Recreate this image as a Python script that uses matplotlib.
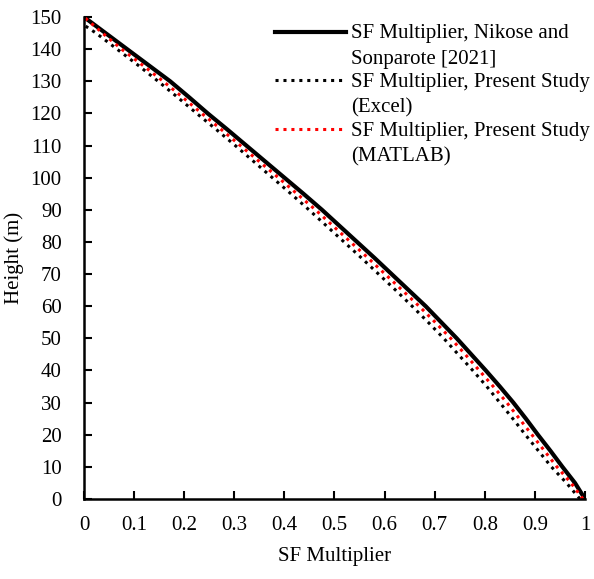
import numpy as np
import matplotlib
matplotlib.use("Agg")
import matplotlib.pyplot as plt

plt.rcParams['font.family'] = ['Liberation Serif', 'DejaVu Serif']
plt.rcParams['font.size'] = 15

# height along the structure (m)
height = [0, 5, 10, 15, 20, 25, 30, 35, 40, 45, 50, 55, 60, 65, 70, 75,
          80, 85, 90, 95, 100, 105, 110, 115, 120, 125, 130, 135, 140, 145, 150]
height_excel = [0, 5, 10, 15, 20, 25, 30, 35, 40, 45, 50, 55, 60, 65, 70, 75,
                80, 85, 90, 95, 100, 105, 110, 115, 120, 125, 130, 135, 140, 145, 147.5]

# SF multiplier values
sf_nikose = [1.0, 0.980, 0.955, 0.931, 0.906, 0.882, 0.857, 0.830, 0.802, 0.773,
             0.744, 0.713, 0.682, 0.648, 0.614, 0.580, 0.545, 0.510, 0.475, 0.438,
             0.400, 0.362, 0.324, 0.286, 0.247, 0.210, 0.172, 0.129, 0.086, 0.043, 0.0]
sf_excel = [0.990, 0.963, 0.933, 0.907, 0.881, 0.856, 0.830, 0.804, 0.776, 0.747,
            0.718, 0.687, 0.655, 0.622, 0.588, 0.554, 0.519, 0.484, 0.449, 0.413,
            0.376, 0.339, 0.302, 0.264, 0.225, 0.187, 0.148, 0.108, 0.066, 0.024, 0.0]
sf_matlab = [0.996, 0.972, 0.944, 0.919, 0.894, 0.869, 0.844, 0.817, 0.789, 0.761,
             0.732, 0.701, 0.669, 0.635, 0.601, 0.567, 0.532, 0.497, 0.462, 0.425,
             0.388, 0.350, 0.312, 0.274, 0.235, 0.197, 0.158, 0.117, 0.075, 0.037, 0.0]

fig = plt.figure(figsize=(5.94, 5.79), dpi=100)
ax = fig.add_axes([0.1414, 0.1382, 0.8434, 0.8324])

ax.plot(sf_nikose, height, color='black', lw=3,
        label='SF Multiplier, Nikose and\nSonparote [2021]')
ax.plot(sf_excel, height_excel, color='black', lw=2.2, linestyle=(0, (1, 1.6)),
        label='SF Multiplier, Present Study\n(Excel)')
ax.plot(sf_matlab, height, color='red', lw=2.2, linestyle=(0, (1, 1.6)),
        label='SF Multiplier, Present Study\n(MATLAB)')

ax.set_xlim(0, 1)
ax.set_ylim(0, 150)
ax.set_xticks(np.arange(0, 1.01, 0.1))
ax.set_xticklabels(['0', '0.1', '0.2', '0.3', '0.4', '0.5', '0.6', '0.7', '0.8', '0.9', '1'])
ax.set_yticks(np.arange(0, 151, 10))

for s in ['top', 'right']:
    ax.spines[s].set_visible(False)
for s in ['left', 'bottom']:
    ax.spines[s].set_linewidth(1.8)
ax.tick_params(direction='in', length=6, width=1.5, labelsize=15)
ax.tick_params(axis='x', pad=12)
ax.tick_params(axis='y', pad=16)

ax.set_xlabel('SF Multiplier', fontsize=15, labelpad=9)
ax.set_ylabel('Height (m)', fontsize=15, labelpad=5)

leg = ax.legend(loc='upper left', bbox_to_anchor=(0.381, 0.985), frameon=False,
                fontsize=15, handlelength=3.4, handletextpad=0.25,
                labelspacing=0.2, borderaxespad=0.0, borderpad=0.0)
for t in leg.get_texts():
    t.set_linespacing(1.45)
# keep each legend line level with the first row of its label
for col in leg._legend_handle_box.get_children():
    for row in col.get_children():
        row.align = 'top'

fig.savefig('out.png', dpi=100)
